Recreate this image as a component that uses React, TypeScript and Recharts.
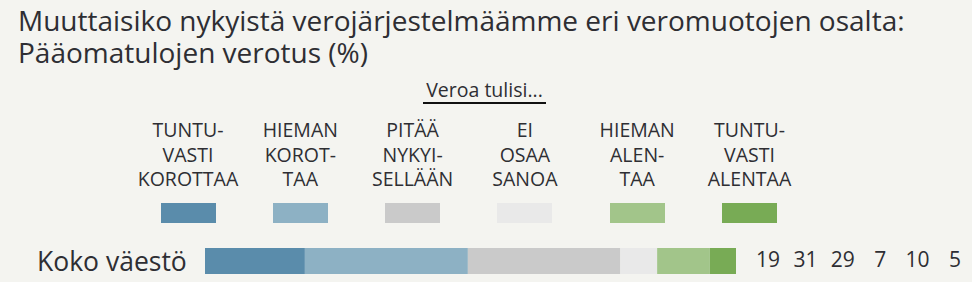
import { Bar, BarChart, XAxis, YAxis } from "recharts";

const categories = [
  ["TUNTU-", "VASTI", "KOROTTAA"],
  ["HIEMAN", "KOROT-", "TAA"],
  ["PITÄÄ", "NYKYI-", "SELLÄÄN"],
  ["EI", "OSAA", "SANOA"],
  ["HIEMAN", "ALEN-", "TAA"],
  ["TUNTU-", "VASTI", "ALENTAA"],
];
const seriesKeys = ["s1", "s2", "s3", "s4", "s5", "s6"];
const colors = ["#5a8cab", "#8db1c4", "#cacaca", "#e9e9e9", "#a2c58a", "#78ab55"];
const groupLabel = "Koko väestö";
const values = [19, 31, 29, 7, 10, 5];

const title = [
  "Muuttaisiko nykyistä verojärjestelmäämme eri veromuotojen osalta:",
  "Pääomatulojen verotus (%)",
];
const legendTitle = "Veroa tulisi...";

const row: Record<string, string | number> = { name: groupLabel };
seriesKeys.forEach((k, i) => {
  row[k] = values[i];
});
const data = [row];
const total = values.reduce((a, b) => a + b, 0);

const font = "'Open Sans', 'Noto Sans', sans-serif";
const ink = "#2e2e33";

const NameTick = (props: any) => (
  <text
    x={37}
    y={props.y}
    dy={10}
    fontFamily={font}
    fontSize={26.5}
    fill={ink}
    textAnchor="start"
  >
    {props.payload.value}
  </text>
);

export default function App() {
  return (
    <div
      style={{
        position: "absolute",
        left: 0,
        top: 0,
        width: 972,
        height: 282,
        background: "#f4f4f0",
        fontFamily: font,
        color: ink,
        overflow: "hidden",
      }}
    >
      <div style={{ position: "absolute", left: 18, top: 4, fontSize: 28, lineHeight: "32px", whiteSpace: "nowrap" }}>
        {title.map((t) => (
          <div key={t}>{t}</div>
        ))}
      </div>

      <div
        style={{
          position: "absolute",
          left: 423,
          top: 78,
          fontSize: 19.5,
          lineHeight: "24px",
          width: 123,
          textAlign: "center",
          borderBottom: "2px solid #111",
          whiteSpace: "nowrap",
        }}
      >
        {legendTitle}
      </div>

      {categories.map((lines, i) => {
        const cx = 188 + i * 112.3;
        return (
          <div key={i} style={{ position: "absolute", left: cx - 60, top: 118, width: 120, textAlign: "center" }}>
            {lines.map((l, j) => (
              <div key={j} style={{ fontSize: 19.5, lineHeight: "24.5px", whiteSpace: "nowrap" }}>
                {l}
              </div>
            ))}
            <div
              style={{
                position: "absolute",
                left: 60 - 27.5,
                top: 85,
                width: 55,
                height: 20,
                background: colors[i],
              }}
            />
          </div>
        );
      })}

      <div style={{ position: "absolute", left: 0, top: 0 }}>
        <BarChart
          width={972}
          height={282}
          data={data}
          layout="vertical"
          margin={{ top: 248, right: 236, bottom: 8, left: 0 }}
          barCategoryGap={0}
        >
          <XAxis type="number" hide domain={[0, total]} />
          <YAxis
            type="category"
            dataKey="name"
            width={205}
            axisLine={false}
            tickLine={false}
            tick={<NameTick />}
          />
          {seriesKeys.map((k, i) => (
            <Bar key={k} dataKey={k} stackId="a" fill={colors[i]} isAnimationActive={false} />
          ))}
        </BarChart>
      </div>

      {values.map((v, i) => (
        <div
          key={i}
          style={{
            position: "absolute",
            left: 768 + i * 37.4 - 20,
            top: 245,
            width: 40,
            textAlign: "center",
            fontSize: 21,
            lineHeight: "28px",
          }}
        >
          {v}
        </div>
      ))}
    </div>
  );
}
